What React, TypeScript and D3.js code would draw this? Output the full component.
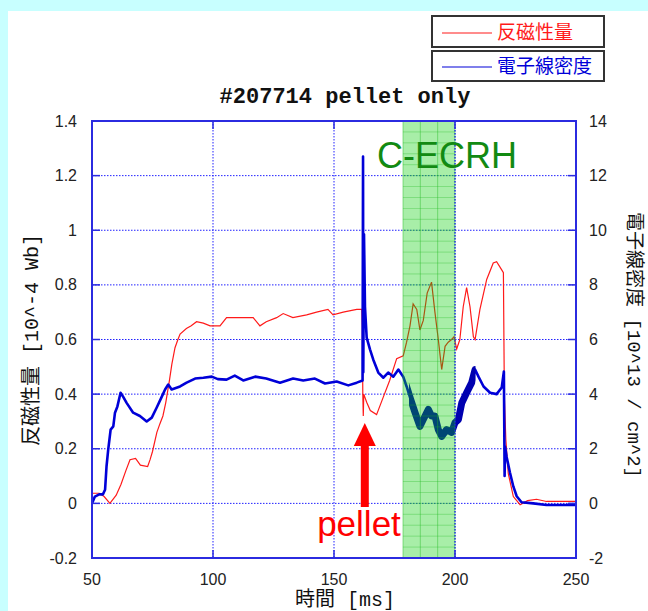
import React from "react";
import * as d3 from "d3";

// ---- data ----
const xTicks = [50, 100, 150, 200, 250];
const leftTicks = [-0.2, 0, 0.2, 0.4, 0.6, 0.8, 1, 1.2, 1.4];
const rightTicks = [-2, 0, 2, 4, 6, 8, 10, 12, 14];
const ecrhRange = [178.5, 200];
const pelletTime = 161.9;

// 反磁性量 [10^-4 Wb]  (time ms, value)
const diamagnetic: [number, number][] = [
  [50, 0.037], [53, 0.037], [55, 0.025], [57.4, 0], [60, 0.03], [62, 0.07], [64, 0.12],
  [65.7, 0.16], [68, 0.165], [70, 0.14], [73, 0.135], [74, 0.16], [75, 0.19], [76.8, 0.26],
  [78, 0.29], [79.3, 0.32], [80.5, 0.37], [82, 0.45], [83, 0.51], [84.3, 0.57], [85.5, 0.6],
  [86.4, 0.62], [89, 0.64], [91, 0.65], [93.2, 0.665], [96, 0.66], [98.8, 0.65], [102.9, 0.65],
  [105.6, 0.68], [110, 0.68], [116.6, 0.68], [119.4, 0.65], [122, 0.665], [126.3, 0.68],
  [129, 0.695], [133, 0.68], [138.7, 0.69], [142.8, 0.7], [147.5, 0.71], [149.6, 0.69],
  [153.8, 0.7], [159.4, 0.71], [161.5, 0.71], [161.7, 0.645], [161.9, 0.4], [162.1, 0.32],
  [162.3, 0.4], [163.5, 0.37], [165, 0.34], [167.6, 0.325], [170.4, 0.39], [173, 0.45],
  [175.9, 0.53], [178.6, 0.54], [180, 0.59], [181.4, 0.65], [182.7, 0.73], [184.2, 0.71],
  [185.5, 0.635], [186.9, 0.67], [188.5, 0.77], [190.3, 0.81], [191.7, 0.7], [193.1, 0.6],
  [194.5, 0.49], [195.9, 0.575], [197.2, 0.59], [198.6, 0.6], [199.6, 0.61], [200.7, 0.565],
  [202, 0.6], [203.4, 0.72], [204.8, 0.79], [206.2, 0.72], [207.6, 0.61], [208.3, 0.6],
  [210.3, 0.71], [213.1, 0.82], [215.8, 0.88], [217.2, 0.885], [219.3, 0.855], [220, 0.845],
  [220.4, 0.39], [221, 0.235], [222, 0.11], [224.1, 0.025], [226.9, -0.005], [230, 0.01],
  [233.7, 0.015], [237.8, 0.007], [240, 0.007], [248.8, 0.007], [250, 0.007],
];

// 電子線密度 [10^13 / cm^2]  (time ms, value)
const density: [number, number][] = [
  [50, 0], [51.2, 0.25], [53, 0.33], [54.5, 0.33], [55.4, 0.5], [56, 1.35], [56.7, 1.97],
  [57.7, 2.7], [58.8, 2.82], [59.5, 3.32], [60.5, 3.55], [61.8, 4.05], [62.9, 3.9],
  [64.3, 3.68], [67, 3.32], [69.8, 3.2], [72.6, 3.0], [74.7, 3.14], [76.7, 3.5], [78.8, 3.9],
  [80.2, 4.17], [81.5, 4.35], [82.9, 4.17], [86.4, 4.28], [89.1, 4.42], [92.6, 4.57],
  [96, 4.6], [99.5, 4.64], [102, 4.55], [105.6, 4.53], [109, 4.68], [112.5, 4.5],
  [117.4, 4.64], [122, 4.57], [127.7, 4.42], [133.1, 4.57], [137.3, 4.5], [142.1, 4.57],
  [146.3, 4.39], [151.1, 4.46], [155.9, 4.32], [159.4, 4.42], [161.8, 4.5], [162.0, 12.7],
  [162.1, 4.8], [162.4, 9.85], [162.8, 7.2], [163.5, 6.07], [164.9, 5.63], [166.2, 5.27],
  [168.3, 4.79], [170.4, 4.6], [172.4, 4.79], [174.5, 4.64], [176.6, 4.9], [178.6, 4.64],
  [180, 4.28], [181.7, 3.8], [183.5, 3.32], [185.5, 2.82], [186.9, 3.07], [189, 3.44],
  [190.3, 3.2], [191.7, 3.2], [193.1, 2.7], [194.5, 2.45], [196.5, 2.7], [198.6, 2.6],
  [200, 2.96], [201.4, 3.07], [202.8, 3.68], [204.8, 4.05], [206.9, 4.42], [208.3, 4.9],
  [209.7, 4.64], [211.8, 4.28], [214.5, 4.05], [217.2, 4.0], [219.3, 4.24], [220.2, 4.83],
  [220.5, 1.0], [220.7, 2.08], [221.3, 1.72], [222.7, 1.13], [224.1, 0.62], [225.5, 0.26],
  [227.5, 0.04], [232.3, 0], [237.8, -0.06], [250, -0.06],
];

const W = 648;
const H = 611;
const L = 92, R = 576, T = 121, B = 558;

export default function App() {
  const x = d3.scaleLinear().domain([50, 250]).range([L, R]);
  const yL = d3.scaleLinear().domain([-0.2, 1.4]).range([B, T]);
  const yR = d3.scaleLinear().domain([-2, 14]).range([B, T]);

  const redLine = d3.line<[number, number]>().x((d) => x(d[0])).y((d) => yL(d[1]));
  const blueLine = d3.line<[number, number]>().x((d) => x(d[0])).y((d) => yR(d[1]));

  const gridY = [0, 0.2, 0.4, 0.6, 0.8, 1, 1.2];
  const gridX = [100, 150, 200];
  const minorY = d3.range(-0.2, 1.4001, 0.04);
  const bx0 = x(ecrhRange[0]);
  const bx1 = x(ecrhRange[1]);
  const minorX = [0, 1, 2, 3].map((k) => bx0 + ((bx1 - bx0) * k) / 3);

  const axisColor = "#2b2be0";
  const tickFont = "Liberation Sans, Arial, sans-serif";
  const cjkMono = "'Liberation Mono', 'Noto Sans CJK JP', monospace";

  const px = x(pelletTime) + 2;

  return (
    <svg width={W} height={H} style={{ position: "absolute", left: 0, top: 0 }}>
      <rect x={0} y={0} width={W} height={H} fill="#ffffff" />
      <rect x={0} y={0} width={8} height={H} fill="#c8ffff" />
      <rect x={0} y={0} width={W} height={11} fill="#c8ffff" />

      <defs>
        <clipPath id="plot">
          <rect x={L} y={T} width={R - L} height={B - T} />
        </clipPath>
        <clipPath id="noisy">
          <rect x={x(181)} y={T} width={x(208.5) - x(181)} height={B - T} />
        </clipPath>
      </defs>

      {/* gridlines */}
      {gridY.map((v) => (
        <line key={"gy" + v} x1={L} x2={R} y1={yL(v)} y2={yL(v)} stroke="#2020ff" strokeWidth={1} strokeDasharray="1.5,1.5" />
      ))}
      {gridX.map((v) => (
        <line key={"gx" + v} x1={x(v)} x2={x(v)} y1={T} y2={B} stroke="#2020ff" strokeWidth={1} strokeDasharray="1.5,1.5" />
      ))}

      {/* data */}
      <g clipPath="url(#plot)">
        <path d={redLine(diamagnetic) || ""} fill="none" stroke="#ff1a1a" strokeWidth={1.2} />
        <path d={blueLine(density) || ""} fill="none" stroke="#0000d8" strokeWidth={2.6} strokeLinejoin="round" />
        <g clipPath="url(#noisy)">
          <path d={blueLine(density) || ""} fill="none" stroke="#0000b0" strokeWidth={7} strokeLinejoin="round" />
        </g>
      </g>

      {/* ECRH band */}
      <rect x={bx0} y={T} width={bx1 - bx0} height={B - T} fill="#00cc00" opacity={0.34} />
      {minorY.map((v, i) => (
        <line key={"my" + i} x1={bx0} x2={bx1} y1={yL(v)} y2={yL(v)} stroke="#22bb22" strokeWidth={0.8} opacity={0.4} />
      ))}
      {minorX.map((v, i) => (
        <line key={"mx" + i} x1={v} x2={v} y1={T} y2={B} stroke="#22bb22" strokeWidth={0.8} opacity={0.55} />
      ))}
      <line x1={x(200)} x2={x(200)} y1={T} y2={B} stroke="#2020ff" strokeWidth={1} strokeDasharray="1.5,1.5" />

      {/* frame */}
      <rect x={L} y={T} width={R - L} height={B - T} fill="none" stroke={axisColor} strokeWidth={2} />
      {leftTicks.map((v) => (
        <g key={"lt" + v}>
          <line x1={L} x2={L + 8} y1={yL(v)} y2={yL(v)} stroke={axisColor} strokeWidth={1.5} />
          <text x={77} y={yL(v)} dy="0.35em" textAnchor="end" fontFamily={tickFont} fontSize={16} fill="#222">
            {String(v)}
          </text>
        </g>
      ))}
      {rightTicks.map((v) => (
        <g key={"rt" + v}>
          <line x1={R - 8} x2={R} y1={yR(v)} y2={yR(v)} stroke={axisColor} strokeWidth={1.5} />
          <text x={589} y={yR(v)} dy="0.35em" textAnchor="start" fontFamily={tickFont} fontSize={16} fill="#222">
            {String(v)}
          </text>
        </g>
      ))}
      {xTicks.map((v) => (
        <g key={"xt" + v}>
          <line x1={x(v)} x2={x(v)} y1={B} y2={B - 8} stroke={axisColor} strokeWidth={1.5} />
          <line x1={x(v)} x2={x(v)} y1={T} y2={T + 8} stroke={axisColor} strokeWidth={1.5} />
          <text x={x(v)} y={585} textAnchor="middle" fontFamily={tickFont} fontSize={16} fill="#222">
            {String(v)}
          </text>
        </g>
      ))}

      {/* axis labels */}
      <text x={345} y={606} textAnchor="middle" fontFamily={cjkMono} fontSize={20} fill="#111">
        時間 [ms]
      </text>
      <text transform={`translate(38,340) rotate(-90)`} textAnchor="middle" fontFamily={cjkMono} fontSize={20} fill="#111">
        反磁性量 [10^-4 Wb]
      </text>
      <text transform={`translate(628,345) rotate(90)`} textAnchor="middle" fontFamily={cjkMono} fontSize={19} fill="#111">
        電子線密度 [10^13 / cm^2]
      </text>

      {/* title */}
      <text x={345} y={103} textAnchor="middle" fontFamily="'Liberation Mono', monospace" fontWeight="bold" fontSize={22} fill="#111">
        #207714 pellet only
      </text>

      {/* legend */}
      <rect x={432} y={16} width={172} height={31} fill="#fff" stroke="#333" strokeWidth={2} />
      <line x1={442} x2={492} y1={33} y2={33} stroke="#ff1a1a" strokeWidth={1.2} />
      <text x={497} y={39} fontFamily="'Noto Sans CJK JP', sans-serif" fontSize={19} fill="#ff1a1a">反磁性量</text>
      <rect x={432} y={51} width={172} height={30} fill="#fff" stroke="#333" strokeWidth={2} />
      <line x1={442} x2={492} y1={67} y2={67} stroke="#0000d8" strokeWidth={1.2} />
      <text x={497} y={73} fontFamily="'Noto Sans CJK JP', sans-serif" fontSize={19} fill="#0000d8">電子線密度</text>

      {/* annotations */}
      <text x={447} y={168} textAnchor="middle" fontFamily={tickFont} fontSize={36} fill="#128a12">
        C-ECRH
      </text>
      <rect x={px - 4} y={444} width={8} height={63} fill="#ff0000" />
      <path d={`M${px},423 L${px + 11},446 L${px - 11},446 Z`} fill="#ff0000" />
      <text x={359} y={536} textAnchor="middle" fontFamily={tickFont} fontSize={35} fill="#ff0000">
        pellet
      </text>
    </svg>
  );
}
